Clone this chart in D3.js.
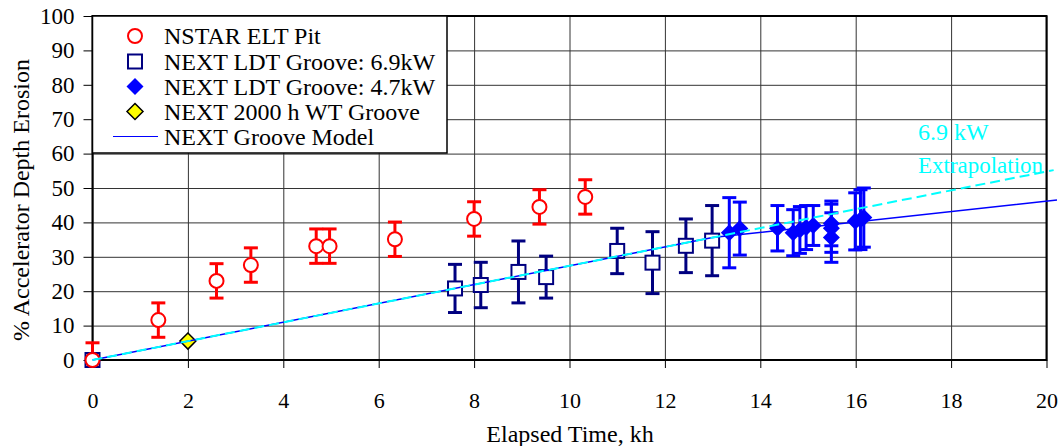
<!DOCTYPE html>
<html>
<head>
<meta charset="utf-8">
<script src="https://cdn.jsdelivr.net/npm/d3@7"></script>
<style>
  html, body { margin: 0; padding: 0; background: #fff; }
  svg { display: block; }
  svg text { font-family: 'Liberation Serif', 'Times New Roman', serif; }
</style>
</head>
<body>
<svg id="chart" width="1062" height="446"></svg>
<script>
// ---------------- DATA ----------------
const xTicks = [0, 2, 4, 6, 8, 10, 12, 14, 16, 18, 20];
const yTicks = [0, 10, 20, 30, 40, 50, 60, 70, 80, 90, 100];

// NSTAR ELT Pit
const nstarX   = [0, 1.38, 2.60, 3.32, 4.69, 4.97, 6.34, 8.00, 9.37, 10.33];
const nstarY   = [0, 11.6, 23.0, 27.6, 33.1, 33.1, 35.1, 41.0, 44.5, 47.4];
const nstarErr = [5, 5, 5, 5, 5, 5, 5, 5, 5, 5];

// NEXT LDT Groove: 6.9kW
const ldt69X   = [0, 7.60, 8.14, 8.93, 9.51, 11.00, 11.74, 12.44, 12.99];
const ldt69Y   = [0, 20.8, 21.8, 25.6, 24.1, 31.7, 28.3, 33.2, 34.7];
const ldt69Err = [0, 7.0, 6.6, 9.0, 6.1, 6.6, 9.0, 7.8, 10.2];

// NEXT LDT Groove: 4.7kW
const ldt47X   = [13.35, 13.57, 14.36, 14.69, 14.83, 14.96, 15.11, 15.49, 15.49, 15.49, 15.99, 16.10, 16.17];
const ldt47Y   = [37.0, 38.2, 38.3, 37.0, 37.8, 38.5, 39.1, 39.7, 38.3, 35.6, 40.3, 40.8, 41.4];
const ldt47Err = [10.2, 7.7, 6.6, 6.7, 6.8, 6.4, 5.8, 6.5, 7.0, 7.2, 8.3, 8.7, 8.6];

// NEXT 2000 h WT Groove
const wtX = [2.0];
const wtY = [5.5];

// NEXT Groove Model
const modelX = [0, 13.0, 20.22];
const modelY = [0, 35.6, 46.5];

// 6.9 kW Extrapolation
const extrapX = [0, 20.15];
const extrapY = [0, 55.2];

const legendLabels = ["NSTAR ELT Pit", "NEXT LDT Groove: 6.9kW", "NEXT LDT Groove: 4.7kW",
                      "NEXT 2000 h WT Groove", "NEXT Groove Model"];

// ---------------- LAYOUT ----------------
const FONT = "'Liberation Serif', 'Times New Roman', serif";
const L = 92.5, R = 1046.5, T = 16, B = 360;
const svg = d3.select("#chart");
const x = d3.scaleLinear().domain([0, 20]).range([L, R]);
const y = d3.scaleLinear().domain([0, 100]).range([B, T]);

// gridlines
svg.append("g").attr("transform", `translate(0,${T})`)
  .call(d3.axisBottom(x).tickValues(xTicks).tickSize(B - T).tickFormat(""))
  .call(g => g.select(".domain").remove())
  .call(g => g.selectAll("line").attr("stroke", "#333").attr("stroke-width", 1));
svg.append("g").attr("transform", `translate(${L},0)`)
  .call(d3.axisRight(y).tickValues(yTicks).tickSize(R - L).tickFormat(""))
  .call(g => g.select(".domain").remove())
  .call(g => g.selectAll("line").attr("stroke", "#333").attr("stroke-width", 1));

// axes with ticks and labels
const xAxis = svg.append("g").attr("transform", `translate(0,${B})`)
  .call(d3.axisBottom(x).tickValues(xTicks).tickSize(8).tickPadding(24).tickFormat(d3.format("d")));
xAxis.attr("font-family", null).attr("font-size", null);
xAxis.select(".domain").remove();
xAxis.selectAll("line").attr("stroke", "#000").attr("stroke-width", 1);
xAxis.selectAll("text").style("font-family", FONT).style("font-size", "22px").attr("fill", "#000");

const yAxis = svg.append("g").attr("transform", `translate(${L},0)`)
  .call(d3.axisLeft(y).tickValues(yTicks).tickSize(9).tickPadding(9).tickFormat(d3.format("d")));
yAxis.attr("font-family", null).attr("font-size", null);
yAxis.select(".domain").remove();
yAxis.selectAll("line").attr("stroke", "#000").attr("stroke-width", 1);
yAxis.selectAll("text").style("font-family", FONT).style("font-size", "23px").attr("fill", "#000");

// frame
svg.append("rect").attr("x", L).attr("y", T).attr("width", R - L).attr("height", B - T)
  .attr("fill", "none").attr("stroke", "#000").attr("stroke-width", 2);

// axis titles
svg.append("text").attr("x", 570).attr("y", 442).attr("text-anchor", "middle")
  .style("font-family", FONT).style("font-size", "24px").text("Elapsed Time, kh");
svg.append("text").attr("transform", `translate(29,200) rotate(-90)`).attr("text-anchor", "middle")
  .style("font-family", FONT).style("font-size", "24px").text("% Accelerator Depth Erosion");

// legend box (drawn before data, covers gridlines)
const lg = svg.append("g");
lg.append("rect").attr("x", L).attr("y", T).attr("width", 447 - L).attr("height", 153 - T)
  .attr("fill", "#fff").attr("stroke", "#000").attr("stroke-width", 1.5);

// clip for error bars
svg.append("clipPath").attr("id", "clip").append("rect")
  .attr("x", 0).attr("y", 0).attr("width", 1062).attr("height", B + 8);

function zip(xs, ys, es) { return xs.map((v, i) => ({ x: v, y: ys[i], e: es ? es[i] : 0 })); }
const nstar = zip(nstarX, nstarY, nstarErr);
const ldt69 = zip(ldt69X, ldt69Y, ldt69Err);
const ldt47 = zip(ldt47X, ldt47Y, ldt47Err);
const wt = zip(wtX, wtY);

function errorBars(data, color) {
  const g = svg.append("g").attr("clip-path", "url(#clip)")
    .attr("stroke", color).attr("stroke-width", 3).attr("fill", "none");
  data.filter(d => d.e > 0).forEach(d => {
    const cx = x(d.x), y1 = y(d.y + d.e), y0 = y(d.y - d.e);
    g.append("line").attr("x1", cx).attr("x2", cx).attr("y1", y1).attr("y2", y0);
    g.append("line").attr("x1", cx - 7).attr("x2", cx + 7).attr("y1", y1).attr("y2", y1);
    g.append("line").attr("x1", cx - 7).attr("x2", cx + 7).attr("y1", y0).attr("y2", y0);
  });
}

const diamond = (cx, cy, r) => `M${cx},${cy - r}L${cx + r},${cy}L${cx},${cy + r}L${cx - r},${cy}Z`;

errorBars(nstar, "#ff0000");
errorBars(ldt69, "#000080");
errorBars(ldt47, "#0000ff");

// markers
svg.append("g").selectAll("rect").data(ldt69).join("rect")
  .attr("x", d => x(d.x) - 7).attr("y", d => y(d.y) - 7).attr("width", 14).attr("height", 14)
  .attr("fill", "#fff").attr("stroke", "#000080").attr("stroke-width", 2);
svg.append("g").selectAll("circle").data(nstar).join("circle")
  .attr("cx", d => x(d.x)).attr("cy", d => y(d.y)).attr("r", 7)
  .attr("fill", "#fff").attr("stroke", "#ff0000").attr("stroke-width", 2);
svg.append("g").selectAll("path").data(ldt47).join("path")
  .attr("d", d => diamond(x(d.x), y(d.y), 8.5)).attr("fill", "#0000ff");
svg.append("g").selectAll("path").data(wt).join("path")
  .attr("d", d => diamond(x(d.x), y(d.y), 8)).attr("fill", "#ffff00")
  .attr("stroke", "#000").attr("stroke-width", 1.5);

// model lines
const line = d3.line().x(d => x(d[0])).y(d => y(d[1]));
svg.append("path").datum(modelX.map((v, i) => [v, modelY[i]])).attr("d", line)
  .attr("fill", "none").attr("stroke", "#0000ff").attr("stroke-width", 1.5);
svg.append("path").datum(extrapX.map((v, i) => [v, extrapY[i]])).attr("d", line)
  .attr("fill", "none").attr("stroke", "#00ffff").attr("stroke-width", 2)
  .attr("stroke-dasharray", "10,5");

// annotation
svg.append("text").attr("x", 918).attr("y", 140)
  .style("font-family", FONT).style("font-size", "24px")
  .style("fill", "#00ffff").text("6.9 kW");
svg.append("text").attr("x", 918).attr("y", 173)
  .style("font-family", FONT).style("font-size", "24px")
  .attr("textLength", 125).attr("lengthAdjust", "spacingAndGlyphs")
  .style("fill", "#00ffff").text("Extrapolation");

// legend entries
const rowY = [36, 61.5, 86.5, 111.5, 136.5];
const sx = 135;
lg.append("circle").attr("cx", sx).attr("cy", rowY[0]).attr("r", 7)
  .attr("fill", "#fff").attr("stroke", "#ff0000").attr("stroke-width", 2);
lg.append("rect").attr("x", sx - 7).attr("y", rowY[1] - 7).attr("width", 14).attr("height", 14)
  .attr("fill", "#fff").attr("stroke", "#000080").attr("stroke-width", 2);
lg.append("path").attr("d", diamond(sx, rowY[2], 8.5)).attr("fill", "#0000ff");
lg.append("path").attr("d", diamond(sx, rowY[3], 8)).attr("fill", "#ffff00")
  .attr("stroke", "#000").attr("stroke-width", 1.5);
lg.append("line").attr("x1", 113).attr("x2", 158).attr("y1", rowY[4]).attr("y2", rowY[4])
  .attr("stroke", "#0000ff").attr("stroke-width", 1.2);
lg.selectAll("text.lt").data(legendLabels).join("text").attr("class", "lt")
  .attr("x", 164).attr("y", (d, i) => rowY[i] + 8.3)
  .style("font-family", FONT).style("font-size", "24px").style("fill", "#000").text(d => d);
</script>
</body>
</html>
